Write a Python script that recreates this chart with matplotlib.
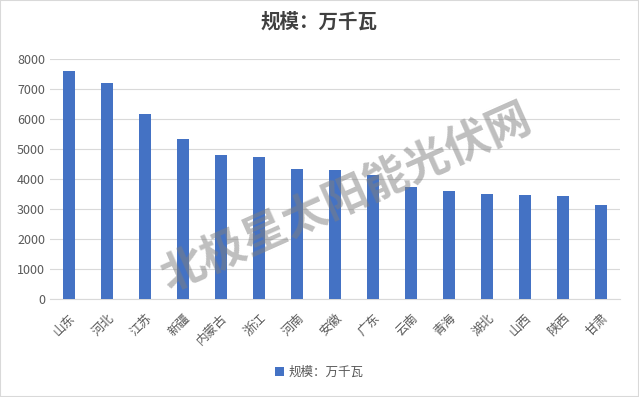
import matplotlib.pyplot as plt
from matplotlib.patches import Rectangle

plt.rcParams['font.family'] = ['Noto Sans CJK SC', 'DejaVu Sans']

provinces = ['山东', '河北', '江苏', '新疆', '内蒙古', '浙江', '河南', '安徽',
             '广东', '云南', '青海', '湖北', '山西', '陕西', '甘肃']
capacity = [7610, 7190, 6170, 5320, 4790, 4720, 4340, 4300,
            4120, 3720, 3610, 3510, 3470, 3420, 3120]
series_name = '规模：万千瓦'

fig = plt.figure(figsize=(6.39, 3.97), dpi=100)
ax = fig.add_axes([50 / 639, 98 / 397, 570 / 639, 240 / 397])

x = range(len(provinces))
ax.bar(x, capacity, width=0.3, color='#4472C4', label=series_name, zorder=3)

ax.set_xlim(-0.5, len(provinces) - 0.5)
ax.set_ylim(0, 8000)
ax.set_yticks(range(0, 8001, 1000))
ax.set_xticks(list(x))
ax.set_xticklabels(provinces, rotation=45, ha='right', rotation_mode='anchor')
ax.tick_params(axis='both', length=0, labelsize=9, colors='#595959')
ax.tick_params(axis='x', pad=9)
ax.grid(axis='y', color='#D9D9D9', linewidth=0.8, zorder=0)
for side in ['top', 'right', 'left']:
    ax.spines[side].set_visible(False)
ax.spines['bottom'].set_color('#D9D9D9')

# watermark
ax.text(0.52, 0.42, '北极星太阳能光伏网', transform=ax.transAxes, fontsize=32,
        fontweight='bold', color='#7F7F7F', alpha=0.5, rotation=24,
        ha='center', va='center', zorder=4)

fig.text(0.5, 0.945, series_name, ha='center', va='center', fontsize=14,
         fontweight='bold', color='#404040')
fig.legend(loc='center', bbox_to_anchor=(0.5, 1 - 372 / 397), frameon=False,
           fontsize=9, labelcolor='#595959', handlelength=0.7, handleheight=0.7,
           handletextpad=0.4)

fig.patches.append(Rectangle((0, 0), 1, 1, transform=fig.transFigure, fill=False,
                             edgecolor='#D9D9D9', linewidth=1.5))

fig.savefig('out.png', dpi=100)
